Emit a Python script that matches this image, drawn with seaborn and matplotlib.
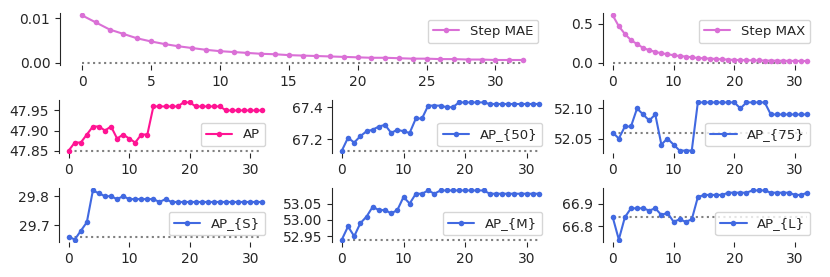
import matplotlib
matplotlib.use("Agg")
import numpy as np
import pandas as pd
import matplotlib.pyplot as plt
import seaborn as sns

sns.set_style("ticks")

steps = list(range(33))

step_mae = [0.0107, 0.0091, 0.0075, 0.0065, 0.0055, 0.0048, 0.0042, 0.0037, 0.0033, 0.0029,
            0.0026, 0.0024, 0.0022, 0.0020, 0.0019, 0.0017, 0.0016, 0.0015, 0.0014, 0.0013,
            0.0012, 0.0011, 0.0011, 0.0010, 0.0009, 0.0009, 0.0008, 0.0008, 0.0007, 0.0007,
            0.0006, 0.0006, 0.0006]
step_max = [0.61, 0.47, 0.37, 0.29, 0.24, 0.19, 0.16, 0.14, 0.12, 0.11,
            0.095, 0.086, 0.078, 0.069, 0.060, 0.056, 0.052, 0.047, 0.043, 0.039,
            0.035, 0.033, 0.031, 0.029, 0.028, 0.027, 0.026, 0.025, 0.024, 0.023,
            0.022, 0.021, 0.021]
ap = [47.85, 47.87, 47.87, 47.89, 47.91, 47.91, 47.90, 47.91, 47.88, 47.89,
      47.88, 47.87, 47.89, 47.89, 47.96, 47.96, 47.96, 47.96, 47.96, 47.97,
      47.97, 47.96, 47.96, 47.96, 47.96, 47.96, 47.95, 47.95, 47.95, 47.95,
      47.95, 47.95, 47.95]
ap_50 = [67.13, 67.21, 67.18, 67.22, 67.25, 67.26, 67.28, 67.29, 67.24, 67.26,
         67.25, 67.24, 67.33, 67.33, 67.41, 67.41, 67.41, 67.40, 67.40, 67.43,
         67.43, 67.43, 67.43, 67.43, 67.42, 67.42, 67.42, 67.42, 67.42, 67.42,
         67.42, 67.42, 67.42]
ap_75 = [52.06, 52.05, 52.07, 52.07, 52.10, 52.09, 52.08, 52.09, 52.04, 52.05,
         52.04, 52.03, 52.03, 52.03, 52.11, 52.11, 52.11, 52.11, 52.11, 52.11,
         52.11, 52.10, 52.11, 52.11, 52.11, 52.11, 52.09, 52.09, 52.09, 52.09,
         52.09, 52.09, 52.09]
ap_s = [29.66, 29.65, 29.68, 29.71, 29.82, 29.81, 29.80, 29.80, 29.79, 29.80,
        29.79, 29.79, 29.79, 29.79, 29.79, 29.78, 29.79, 29.78, 29.78, 29.78,
        29.78, 29.78, 29.78, 29.78, 29.78, 29.78, 29.78, 29.78, 29.78, 29.78,
        29.78, 29.78, 29.78]
ap_m = [52.94, 52.98, 52.95, 52.99, 53.01, 53.04, 53.03, 53.03, 53.02, 53.03,
        53.07, 53.05, 53.08, 53.08, 53.09, 53.08, 53.09, 53.09, 53.09, 53.09,
        53.09, 53.09, 53.09, 53.09, 53.08, 53.08, 53.08, 53.08, 53.08, 53.08,
        53.08, 53.08, 53.08]
ap_l = [66.84, 66.74, 66.84, 66.88, 66.88, 66.88, 66.87, 66.88, 66.85, 66.86,
        66.82, 66.83, 66.82, 66.83, 66.93, 66.94, 66.94, 66.94, 66.94, 66.95,
        66.95, 66.95, 66.95, 66.96, 66.96, 66.96, 66.95, 66.95, 66.95, 66.95,
        66.94, 66.94, 66.95]

W, H = 830, 277
fig = plt.figure(figsize=(8.3, 2.77), dpi=100)

def box(x0, x1, y0, y1):
    return [x0 / W, 1 - y1 / H, (x1 - x0) / W, (y1 - y0) / H]

# (values, label, color, baseline, legend loc, axes box in px)
panels = [
    (step_mae, "Step MAE", "orchid", 0.0, "upper right", box(60, 545, 13, 65)),
    (step_max, "Step MAX", "orchid", 0.0, "upper right", box(603, 817, 13, 65)),
    (ap, "AP", "deeppink", ap[0], "lower right", box(59, 272, 100, 153)),
    (ap_50, "AP_{50}", "royalblue", ap_50[0], "lower right", box(332, 549, 100, 153)),
    (ap_75, "AP_{75}", "royalblue", ap_75[0], "lower right", box(603, 817, 100, 153)),
    (ap_s, "AP_{S}", "royalblue", ap_s[0], "lower right", box(59, 272, 188, 242)),
    (ap_m, "AP_{M}", "royalblue", ap_m[0], "lower right", box(332, 549, 188, 242)),
    (ap_l, "AP_{L}", "royalblue", ap_l[0], "lower right", box(603, 817, 188, 242)),
]

for vals, label, color, base, loc, rect in panels:
    ax = fig.add_axes(rect)
    ax.plot([steps[0], steps[-1]], [base, base], ls=":", color="grey", lw=1.5)
    sns.lineplot(x=steps, y=vals, ax=ax, color=color, marker="o", markersize=4,
                 markeredgewidth=0, lw=1.5, label=label)
    ax.legend(loc=loc, fontsize=9.5)
    ax.set_xlabel("")
    ax.set_ylabel("")
    ax.tick_params(labelsize=10)
    sns.despine(ax=ax, bottom=True)

plt.savefig("out.png", dpi=100)
